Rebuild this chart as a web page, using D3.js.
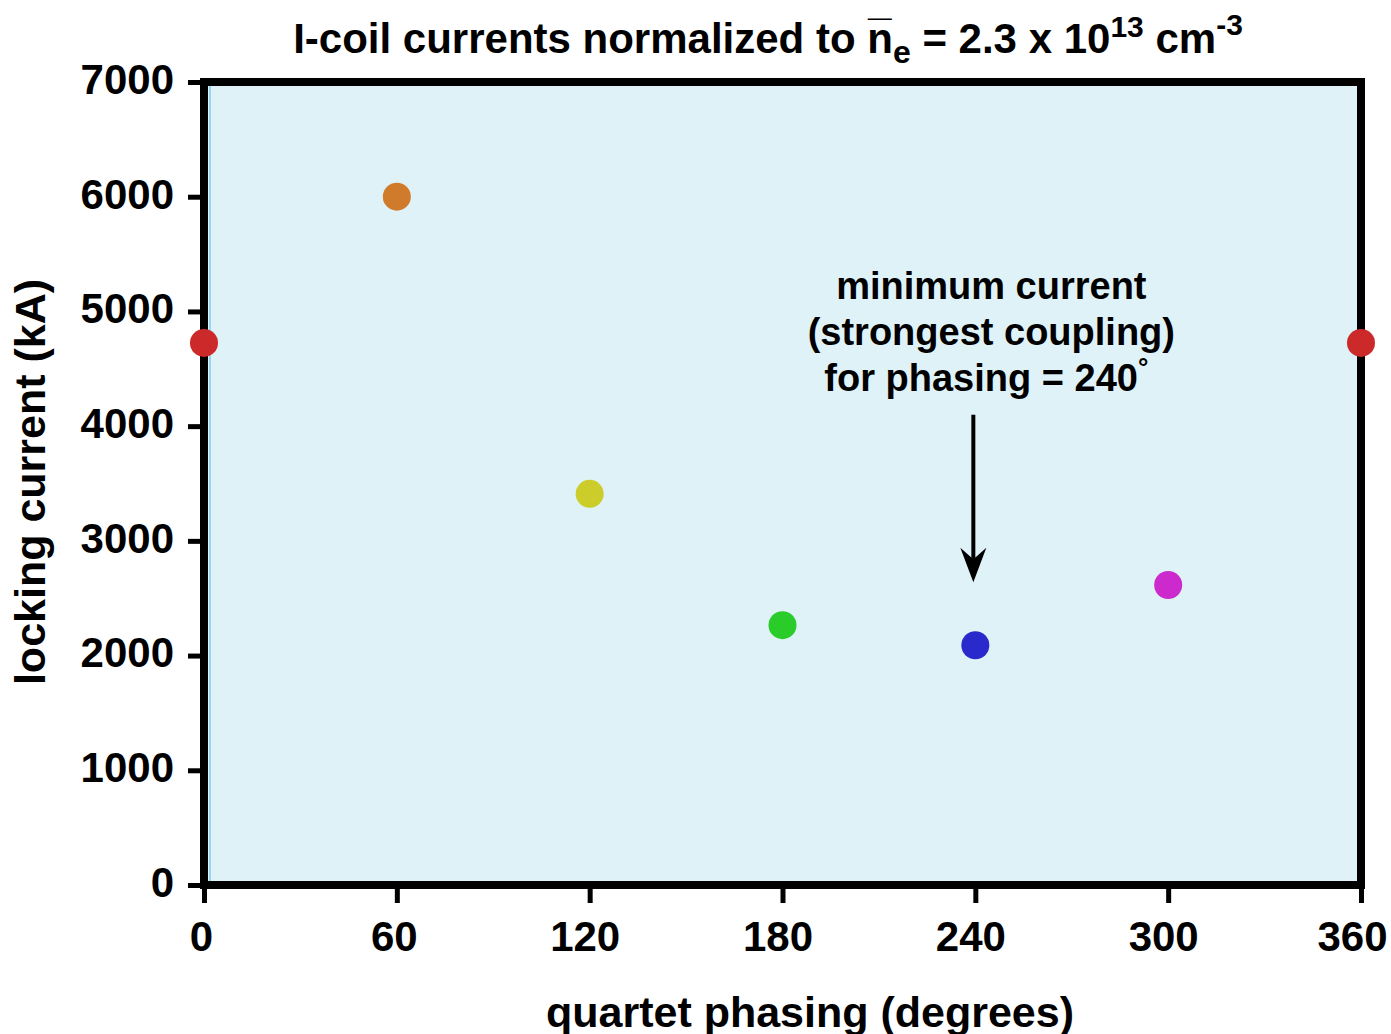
<!DOCTYPE html>
<html>
<head>
<meta charset="utf-8">
<script src="https://cdn.jsdelivr.net/npm/d3@7"></script>
<style>
  body { margin: 0; background: white; }
  text { font-family: "Liberation Sans", Arial, sans-serif; font-weight: bold; fill: black; }
</style>
</head>
<body>
<div class="canvas"></div>
<script>
// data
const phasing = [0, 60, 120, 180, 240, 300, 360];
const lockingCurrent = [4725, 6000, 3410, 2265, 2090, 2615, 4725];
const pointColors = ["#cc2a2a", "#d07b2c", "#cccc2a", "#2acc2a", "#2a2acc", "#cc2acc", "#cc2a2a"];
const xTicks = [0, 60, 120, 180, 240, 300, 360];
const yTicks = [0, 1000, 2000, 3000, 4000, 5000, 6000, 7000];

const width = 1391, height = 1034;
const margin = {top: 82, right: 30, bottom: 149, left: 204};
const graphWidth = 1361 - margin.left;
const graphHeight = 885 - margin.top;

const svg = d3.select(".canvas")
  .append("svg")
    .attr("width", width)
    .attr("height", height);

const graph = svg.append("g")
    .attr("transform", `translate(${margin.left},${margin.top})`);

const x = d3.scaleLinear().domain([0, 360]).range([0, graphWidth]);
const y = d3.scaleLinear().domain([0, 7000]).range([graphHeight, 0]);

// plot background
graph.append("rect")
    .attr("width", graphWidth)
    .attr("height", graphHeight)
    .attr("fill", "#def2f8")
    .attr("stroke", "none");
graph.append("line")
    .attr("x1", 6).attr("x2", 6).attr("y1", 0).attr("y2", graphHeight)
    .attr("stroke", "#93d8ee").attr("stroke-width", 2);

// axes
const xAxis = d3.axisBottom(x).tickValues(xTicks).tickSize(18).tickPadding(14).tickFormat(d3.format("d"));
const yAxis = d3.axisLeft(y).tickValues(yTicks).tickSize(16).tickPadding(14).tickFormat(d3.format("d"));

const xAxisGroup = graph.append("g")
    .attr("transform", `translate(0,${graphHeight})`)
    .call(xAxis);
const yAxisGroup = graph.append("g").call(yAxis);

[xAxisGroup, yAxisGroup].forEach(g => {
  g.select(".domain").remove();
  g.selectAll(".tick line").attr("stroke", "black").attr("stroke-width", 5);
  g.selectAll(".tick text").style("font-size", "42px").attr("fill", "black");
});
yAxisGroup.selectAll(".tick text").attr("dy", "0.27em");
xAxisGroup.selectAll(".tick text").attr("dy", "0.8em").attr("dx", d => d === 360 ? -9 : (d >= 100 ? -5 : -3));

// frame
graph.append("rect")
    .attr("width", graphWidth)
    .attr("height", graphHeight)
    .attr("fill", "none")
    .attr("stroke", "black")
    .attr("stroke-width", 8);

// points
graph.selectAll("circle.pt")
  .data(phasing.map((p, i) => ({p, v: lockingCurrent[i], c: pointColors[i]})))
  .enter()
  .append("circle")
    .attr("class", "pt")
    .attr("cx", d => x(d.p))
    .attr("cy", d => y(d.v))
    .attr("r", 14)
    .attr("fill", d => d.c);

// annotation
const ann = graph.append("text")
    .attr("text-anchor", "middle")
    .style("font-size", "38px");
const annX = x(240) + 16;
ann.append("tspan").attr("x", annX).attr("y", 299 - margin.top).text("minimum current");
ann.append("tspan").attr("x", annX).attr("y", 345 - margin.top).text("(strongest coupling)");
ann.append("tspan").attr("x", annX - 5).attr("y", 391 - margin.top).text("for phasing = 240");
ann.append("tspan").attr("dy", -15).style("font-size", "26px").text("°");

// arrow
const arrowX = x(240) - 2;
graph.append("line")
    .attr("x1", arrowX).attr("x2", arrowX)
    .attr("y1", y(4100)).attr("y2", y(2800))
    .attr("stroke", "black").attr("stroke-width", 4);
graph.append("path")
    .attr("d", `M${arrowX - 13},${y(2940)} L${arrowX},${y(2640)} L${arrowX + 13},${y(2940)} L${arrowX},${y(2840)} Z`)
    .attr("fill", "black");

// titles
const title = svg.append("text")
    .attr("x", 768).attr("y", 53)
    .attr("text-anchor", "middle")
    .style("font-size", "42px");
title.append("tspan").text("I-coil currents normalized to n\u0305");
title.append("tspan").attr("dy", 10).style("font-size", "32px").text("e");
title.append("tspan").attr("dy", -10).text(" = 2.3 x 10");
title.append("tspan").attr("dy", -16).style("font-size", "30px").text("13");
title.append("tspan").attr("dy", 16).text(" cm");
title.append("tspan").attr("dy", -18).style("font-size", "30px").text("-3");

svg.append("text")
    .attr("x", 810).attr("y", 1027)
    .attr("text-anchor", "middle")
    .style("font-size", "43px")
    .text("quartet phasing (degrees)");

svg.append("text")
    .attr("transform", "translate(45,482) rotate(-90)")
    .attr("text-anchor", "middle")
    .style("font-size", "43px")
    .text("locking current (kA)");
</script>
</body>
</html>
